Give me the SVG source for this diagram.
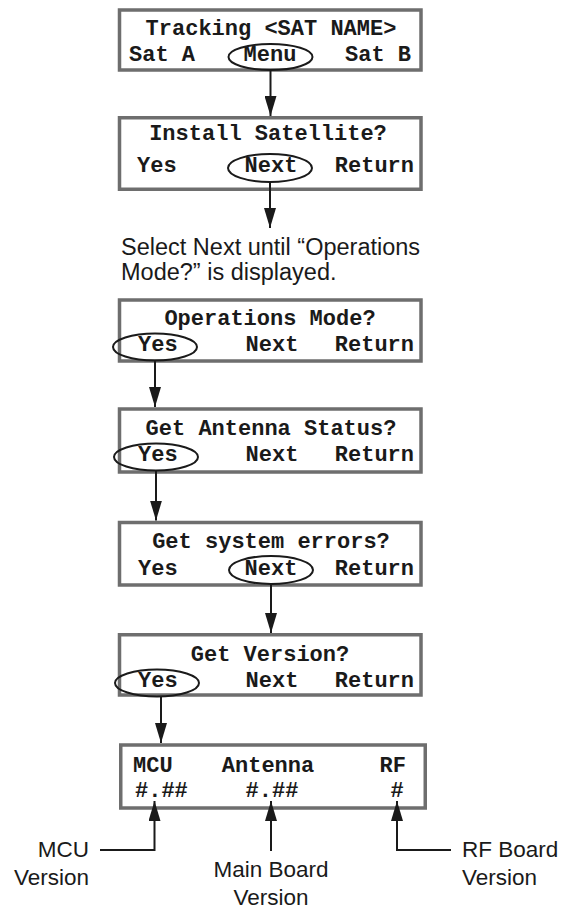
<svg xmlns="http://www.w3.org/2000/svg" width="563" height="909" viewBox="0 0 563 909">
  <style>
    .box { fill: #ffffff; stroke: #6e6e6e; stroke-width: 3.5; }
    .lcd { font-family: "Liberation Mono", "Courier New", monospace; font-weight: bold; font-size: 22px; fill: #1a1a1a; }
    .mid { text-anchor: middle; }
    .end { text-anchor: end; }
    .sel { fill: none; stroke: #1a1a1a; stroke-width: 2; }
    .wire { fill: none; stroke: #1a1a1a; stroke-width: 2; marker-end: url(#head); }
    .note { font-family: "Liberation Sans", Arial, Helvetica, sans-serif; font-size: 23.5px; fill: #1a1a1a; }
    .label { font-family: "Liberation Sans", Arial, Helvetica, sans-serif; font-size: 22.5px; fill: #1a1a1a; }
  </style>
  <defs>
    <marker id="head" viewBox="0 0 20 12" refX="20" refY="6" markerWidth="20" markerHeight="12" markerUnits="userSpaceOnUse" orient="auto">
      <path d="M0,0 L20,6 L0,12 z" fill="#1a1a1a"/>
    </marker>
  </defs>

  <!-- Screen: tracking -->
  <g id="screen-tracking">
    <rect class="box" x="119.5" y="10" width="301.5" height="60"/>
    <text class="lcd mid" x="271" y="35">Tracking &lt;SAT NAME&gt;</text>
    <text class="lcd" x="129" y="61">Sat A</text>
    <text class="lcd mid" x="270" y="61">Menu</text>
    <text class="lcd end" x="411" y="61">Sat B</text>
    <ellipse class="sel" cx="270.5" cy="57" rx="42" ry="13"/>
  </g>

  <!-- Screen: install satellite -->
  <g id="screen-install">
    <rect class="box" x="119.5" y="117.75" width="301.5" height="71.5"/>
    <text class="lcd mid" x="268" y="140">Install Satellite?</text>
    <text class="lcd" x="137" y="172">Yes</text>
    <text class="lcd mid" x="271" y="172">Next</text>
    <text class="lcd end" x="414" y="172">Return</text>
    <ellipse class="sel" cx="270" cy="168" rx="42" ry="14"/>
  </g>

  <!-- Instruction note -->
  <g id="note">
    <text class="note" x="121" y="255">Select Next until “Operations</text>
    <text class="note" x="121" y="280">Mode?” is displayed.</text>
  </g>

  <!-- Screen: operations mode -->
  <g id="screen-operations">
    <rect class="box" x="119.5" y="300" width="301.5" height="61"/>
    <text class="lcd mid" x="270" y="325">Operations Mode?</text>
    <text class="lcd" x="138" y="351">Yes</text>
    <text class="lcd mid" x="272" y="351">Next</text>
    <text class="lcd end" x="414" y="351">Return</text>
    <ellipse class="sel" cx="155" cy="347" rx="42" ry="13.5"/>
  </g>

  <!-- Screen: antenna status -->
  <g id="screen-antenna">
    <rect class="box" x="119.5" y="409" width="301.5" height="63"/>
    <text class="lcd mid" x="271" y="435">Get Antenna Status?</text>
    <text class="lcd" x="138" y="461">Yes</text>
    <text class="lcd mid" x="272" y="461">Next</text>
    <text class="lcd end" x="414" y="461">Return</text>
    <ellipse class="sel" cx="156" cy="457" rx="42" ry="13.5"/>
  </g>

  <!-- Screen: system errors -->
  <g id="screen-errors">
    <rect class="box" x="119.5" y="522.5" width="301.5" height="62.5"/>
    <text class="lcd mid" x="271" y="548">Get system errors?</text>
    <text class="lcd" x="138" y="575">Yes</text>
    <text class="lcd mid" x="271" y="575">Next</text>
    <text class="lcd end" x="414" y="575">Return</text>
    <ellipse class="sel" cx="271" cy="570" rx="42" ry="14"/>
  </g>

  <!-- Screen: version query -->
  <g id="screen-version">
    <rect class="box" x="119.5" y="634.75" width="301.5" height="60.25"/>
    <text class="lcd mid" x="270" y="661">Get Version?</text>
    <text class="lcd" x="138" y="687">Yes</text>
    <text class="lcd mid" x="272" y="687">Next</text>
    <text class="lcd end" x="414" y="687">Return</text>
    <ellipse class="sel" cx="157" cy="683" rx="42" ry="13.5"/>
  </g>

  <!-- Screen: version readout -->
  <g id="screen-readout">
    <rect class="box" x="120.75" y="745" width="304.5" height="63"/>
    <text class="lcd" x="133" y="772">MCU</text>
    <text class="lcd mid" x="268" y="772">Antenna</text>
    <text class="lcd end" x="406" y="772">RF</text>
    <text class="lcd" x="135" y="797">#.##</text>
    <text class="lcd mid" x="272" y="797">#.##</text>
    <text class="lcd mid" x="397" y="797">#</text>
  </g>

  <!-- Connectors -->
  <g id="connectors">
    <path class="wire" d="M270.5,70 V116"/>
    <path class="wire" d="M270,182 V228"/>
    <path class="wire" d="M155,360.5 V407"/>
    <path class="wire" d="M156,470.5 V520.5"/>
    <path class="wire" d="M271,584 V633"/>
    <path class="wire" d="M161,696.5 V743"/>
    <path class="wire" d="M100,850 H154.5 V801"/>
    <path class="wire" d="M271,851 V801"/>
    <path class="wire" d="M451,850 H397 V801"/>
  </g>

  <!-- Callout labels -->
  <g id="label-mcu">
    <text class="label end" x="89" y="857">MCU</text>
    <text class="label end" x="89" y="885">Version</text>
  </g>
  <g id="label-main">
    <text class="label mid" x="271" y="877">Main Board</text>
    <text class="label mid" x="271" y="905">Version</text>
  </g>
  <g id="label-rf">
    <text class="label" x="462" y="857">RF Board</text>
    <text class="label" x="462" y="885">Version</text>
  </g>
</svg>
